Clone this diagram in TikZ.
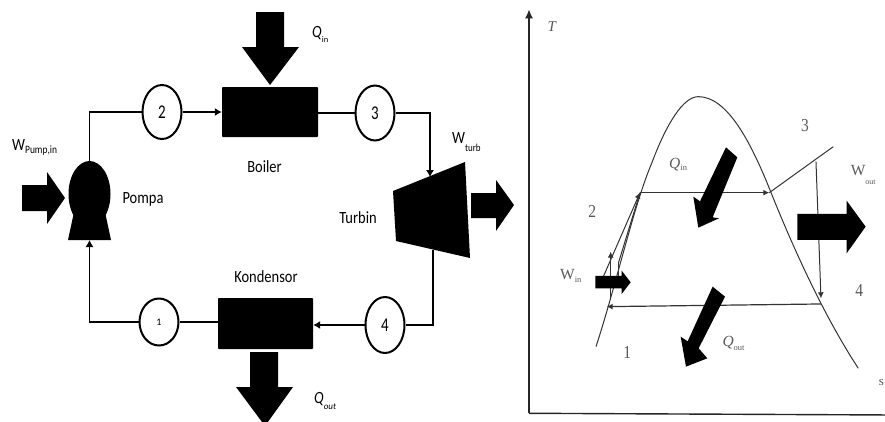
\documentclass[tikz,border=0pt]{standalone}
\usepackage{fontspec}
\usepackage{graphicx}
\setmainfont{Carlito}
\newfontfamily\tsfont{Liberation Serif}
\usetikzlibrary{shapes.geometric,arrows.meta}
\newcommand{\tallbox}[1]{\scalebox{1}[1.18]{#1}}
\newcommand{\lowsub}[3]{\raisebox{#1}{\fontsize{#2}{#2}\selectfont #3}}
\tikzset{
  stateball/.style={draw,ellipse,line width=2pt,inner sep=0pt,fill=white,font=\fontsize{15}{15}\selectfont},
  unitbox/.style={fill=black,rectangle,rounded corners=0.8pt,inner sep=0pt},
  pipe/.style={line width=1.1pt,black},
  pipearrow/.style={pipe,-{Latex[length=7pt,width=8pt]}},
  blockarrow/.style={fill=black},
  lab/.style={inner sep=0pt,font=\fontsize{14.5}{15}\selectfont},
  tsline/.style={line width=1pt,black!80},
  tsarrow/.style={tsline,-{Latex[length=6pt,width=6pt]}},
  tslab/.style={inner sep=0pt,text=black!65,font=\tsfont\fontsize{15.5}{15}\selectfont},
}
\begin{document}
\begin{tikzpicture}[x=1pt,y=-1pt]
\useasboundingbox (0,0) rectangle (885,421);
\begin{scope}
\clip (0,0) rectangle (885,421);
% block arrows on the cycle
\fill[blockarrow] (256,12)--(284,12)--(284,47)--(299,47)--(270,85)--(242,47)--(256,47)--cycle;
\fill[blockarrow] (250,352)--(278,352)--(278,387)--(293,387)--(265,426)--(236,387)--(250,387)--cycle;
\fill[blockarrow] (22,185)--(47,185)--(47,172)--(65,198)--(47,224)--(47,211)--(22,211)--cycle;
\fill[blockarrow] (471,193)--(496,193)--(496,180)--(514,205)--(496,231)--(496,218)--(471,218)--cycle;
\end{scope}
% units
\node[unitbox,minimum width=96pt,minimum height=50pt] (boiler) at (270,112) {};
\node[unitbox,minimum width=95pt,minimum height=51pt] (kond) at (265.5,323.5) {};
\fill (89.5,194) ellipse [x radius=21,y radius=33];
\fill (74,212)--(105,212)--(111,240)--(68,240)--cycle;
\coordinate (pumptop) at (89.5,161);
\coordinate (pumpbot) at (89.5,240);
\fill (393,191)--(465,162)--(470,258)--(396,241)--cycle;
\coordinate (turbin) at (430,177);
\coordinate (turbout) at (433,250);
% state balls
\node[stateball,minimum width=39pt,minimum height=54pt] (c2) at (162,112) {\scalebox{1}[1.3]{2}};
\node[stateball,minimum width=39pt,minimum height=55pt] (c3) at (375,113) {\scalebox{1}[1.3]{3}};
\node[stateball,minimum width=39pt,minimum height=56pt] (c4) at (385,325) {\scalebox{1}[1.3]{4}};
\node[stateball,minimum width=39pt,minimum height=47pt,font=\fontsize{10}{10}\selectfont] (c1) at (159,322) {1};
% connectors
\draw[pipe] (pumptop) |- (c2.west);
\draw[pipearrow] (c2.east) -- (boiler.west |- c2.east);
\draw[pipe] (boiler.east |- c3.west) -- (c3.west);
\draw[pipearrow] (c3.east) -| (turbin);
\draw[pipe] (turbout) |- (c4.east);
\draw[pipearrow] (c4.west) -- (kond.east |- c4.west);
\draw[pipe] (kond.west |- c1.east) -- (c1.east);
\draw[pipearrow] (c1.west) -| (pumpbot);
% labels
\node[lab,anchor=base west] (lwp) at (12,150) {\tallbox{W}\lowsub{-3pt}{9.5}{\tallbox{Pump,in}}};
\node[lab] (lboiler) at (264.5,167) {\tallbox{Boiler}};
\node[lab] (lpompa) at (143,199) {\tallbox{Pompa}};
\node[lab] (lturbin) at (358,218) {\tallbox{Turbin}};
\node[lab] (lkond) at (266,277) {\tallbox{Kondensor}};
\node[lab,anchor=base west] (lqin) at (312,37) {\tallbox{\textit{Q}}\lowsub{-5pt}{8.5}{in}};
\node[lab,anchor=base west] (lqout) at (314,403) {\tallbox{\textit{Q}}\lowsub{-6pt}{9}{\textit{out}}};
\node[lab,anchor=base west] (lwturb) at (452,143) {\tallbox{W}\lowsub{-8pt}{9}{\tallbox{turb}}};
% T-s diagram
\begin{scope}[shift={(520,0)},x=0.3333pt,y=-0.3333pt]
\coordinate (origin) at (27,1240);
\coordinate (ytop) at (27,28);
\coordinate (xend) at (1095,1245);
\draw[line width=1.4pt,black!85,-{Latex[length=9pt,width=8pt]}] (origin) -- (ytop);
\draw[line width=1.4pt,black!85] (origin) -- (xend);
\draw[tsline] (228,1040) .. controls (290,850) and (340,620) .. (395,490) .. controls (440,370) and (490,290) .. (535,290) .. controls (620,290) and (690,420) .. (750,570) .. controls (830,770) and (920,960) .. (1015,1105);
\coordinate (p2) at (360,578);
\coordinate (p2b) at (748,578);
\coordinate (p3) at (940,440);
\coordinate (p3a) at (888,485);
\coordinate (p4) at (903,895);
\coordinate (p4b) at (903,912);
\coordinate (p1) at (260,920);
\draw[tsarrow,line width=1.4pt] (p2) -- (p2b);
\draw[tsline] (p2b) -- (p3);
\draw[tsarrow] (p3a) -- (p4);
\draw[tsarrow,line width=1.2pt] (p4b) -- (p1);
\draw[tsarrow] (250,830) -- (p2);
\draw[tsline] (295,790) -- (p2);
\draw[tsarrow] (272,900) -- (272,755);
\draw[tsline] (295,830) -- (295,790);
\fill[blockarrow] (618,442)--(652,472)--(578,652)--(597,655)--(535,683)--(520,590)--(540,604)--cycle;
\fill[blockarrow] (578,860)--(615,890)--(536,1045)--(562,1075)--(498,1100)--(482,1010)--(503,1024)--cycle;
\fill[blockarrow] (832,642)--(980,642)--(980,602)--(1037,680)--(980,760)--(980,720)--(832,720)--cycle;
\fill[blockarrow] (226,828)--(305,828)--(305,812)--(332,847)--(305,882)--(305,865)--(226,865)--cycle;
\node[tslab,font=\tsfont\itshape\fontsize{15}{15}\selectfont] (lT) at (95,80) {T};
\node[tslab] (l3) at (855,376) {\tallbox{3}};
\node[tslab] (l2) at (217,635) {\tallbox{2}};
\node[tslab] (l4) at (1018,872) {\tallbox{4}};
\node[tslab] (l1) at (322,1058) {\tallbox{1}};
\node[tslab,font=\tsfont\fontsize{13}{13}\selectfont] (ls) at (1084,1147) {s};
\node[tslab,anchor=base west] (lw1) at (120,838) {W\lowsub{-3pt}{8.5}{in}};
\node[tslab,anchor=base west] (lw2) at (992,528) {W\lowsub{-9pt}{8}{out}};
\node[tslab,anchor=base west] (lq1) at (447,505) {\textit{Q}\lowsub{-2pt}{8.5}{in}};
\node[tslab,anchor=base west] (lq2) at (607,1040) {\textit{Q}\lowsub{-4pt}{8.5}{out}};
\end{scope}
\end{tikzpicture}
\end{document}
